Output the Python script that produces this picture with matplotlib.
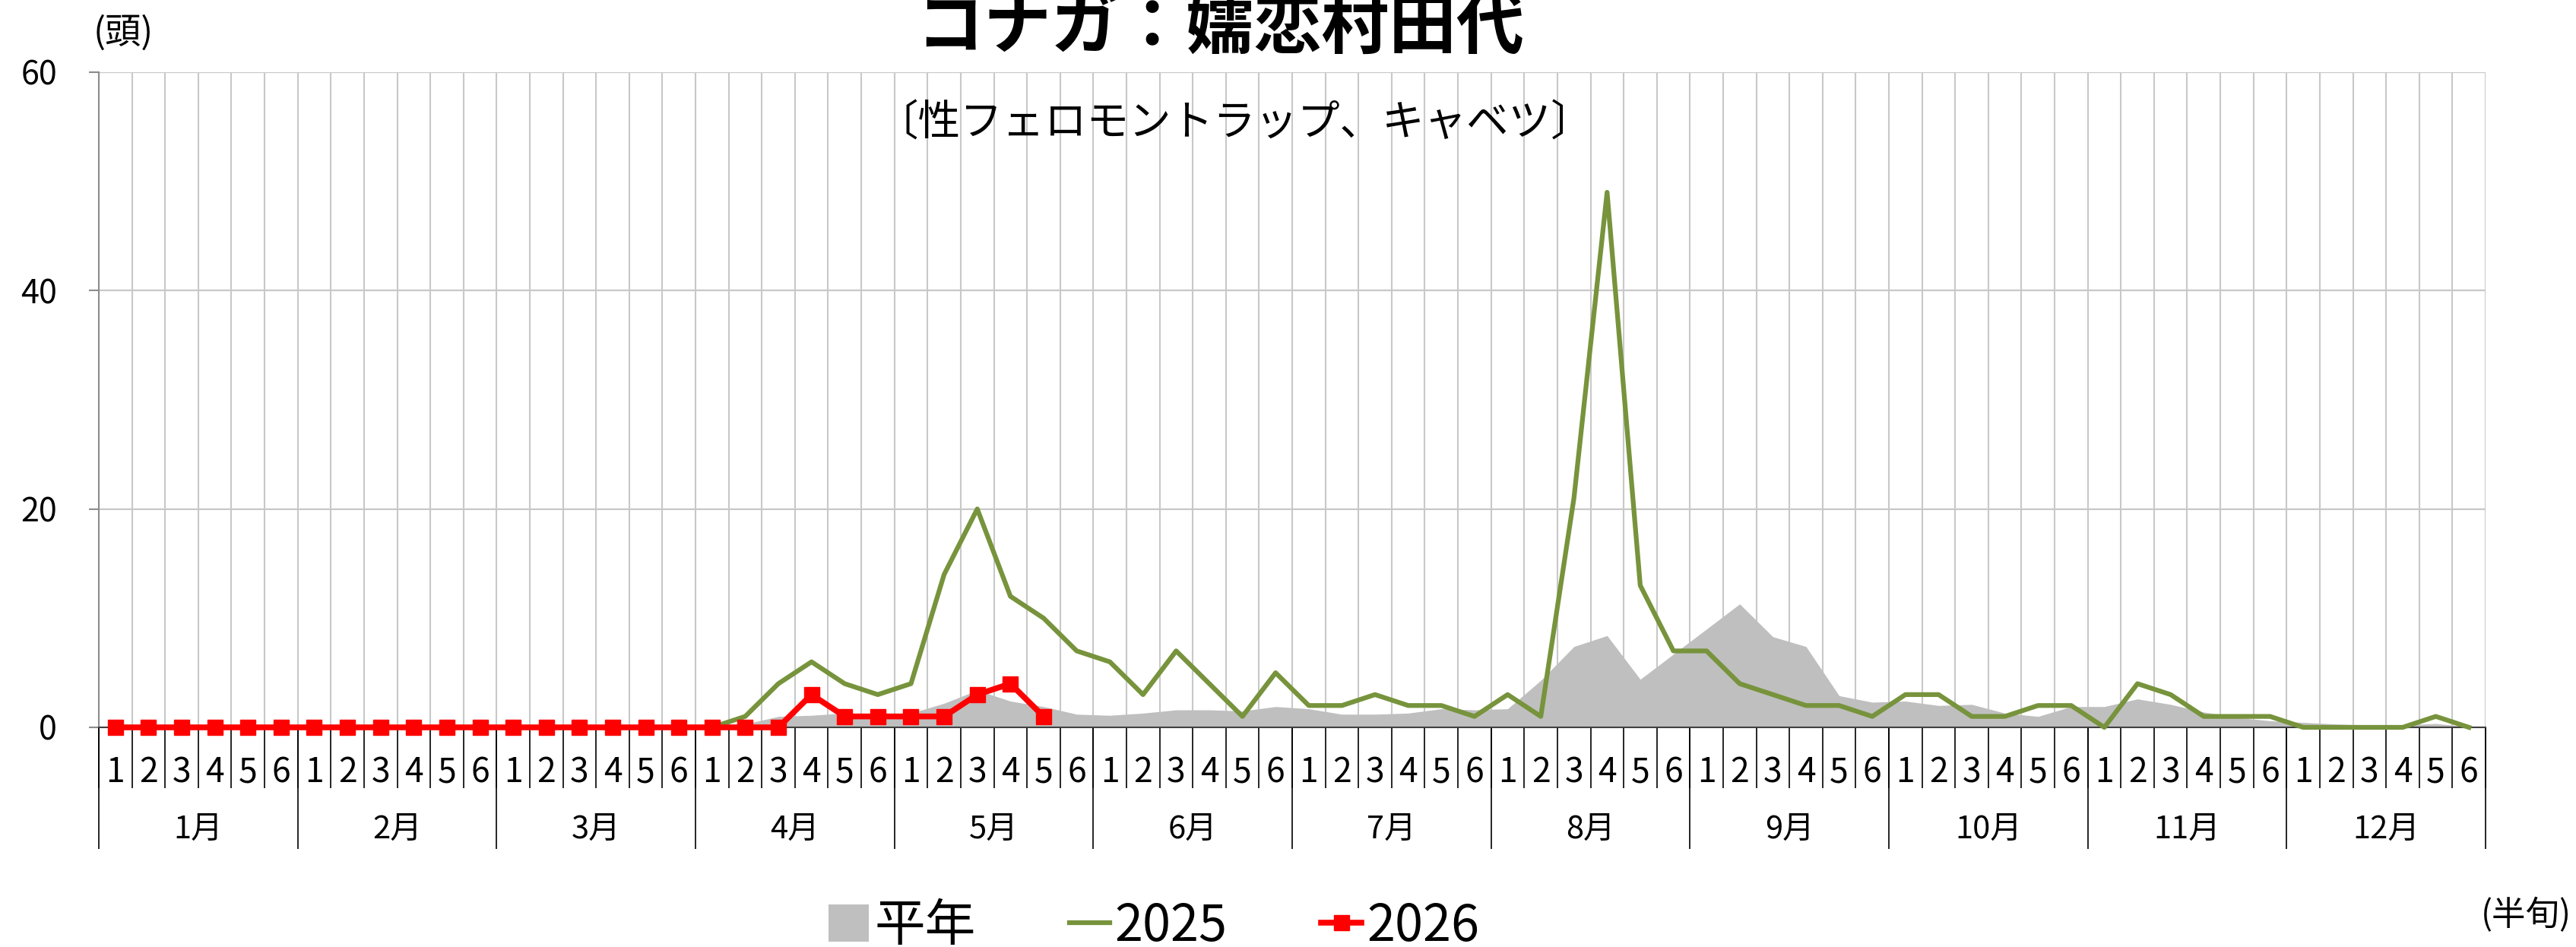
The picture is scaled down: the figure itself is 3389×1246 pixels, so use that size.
import matplotlib
matplotlib.use("Agg")
import matplotlib.pyplot as plt
from matplotlib.patches import Patch
from matplotlib.lines import Line2D
import numpy as np

plt.rcParams['font.family'] = ['Noto Sans CJK JP', 'DejaVu Sans']

# half-month (半旬) labels and months
half_labels = ["1", "2", "3", "4", "5", "6"] * 12
month_labels = ["1月", "2月", "3月", "4月", "5月", "6月",
                "7月", "8月", "9月", "10月", "11月", "12月"]

# 平年 (average year)
heinen = [0, 0, 0, 0, 0, 0,
          0, 0, 0, 0, 0, 0,
          0, 0, 0, 0, 0, 0,
          0, 0.3, 1.0, 1.1, 1.3, 1.2,
          1.3, 2.2, 3.4, 2.4, 1.9, 1.2,
          1.1, 1.3, 1.6, 1.6, 1.5, 1.9,
          1.7, 1.2, 1.2, 1.3, 1.7, 1.6,
          1.7, 4.3, 7.4, 8.4, 4.4, 6.7,
          9.0, 11.3, 8.3, 7.4, 2.9, 2.3,
          2.4, 2.0, 2.1, 1.3, 1.0, 1.9,
          1.9, 2.6, 2.1, 1.4, 0.9, 0.6,
          0.45, 0.3, 0.2, 0.2, 0.35, 0.05]

nan = np.nan
y2025 = [nan, nan, nan, nan, nan, nan,
         nan, nan, nan, nan, nan, nan,
         nan, nan, nan, nan, nan, nan,
         0, 1, 4, 6, 4, 3,
         4, 14, 20, 12, 10, 7,
         6, 3, 7, 4, 1, 5,
         2, 2, 3, 2, 2, 1,
         3, 1, 21, 49, 13, 7,
         7, 4, 3, 2, 2, 1,
         3, 3, 1, 1, 2, 2,
         0, 4, 3, 1, 1, 1,
         0, 0, 0, 0, 1, 0]

y2026 = [0, 0, 0, 0, 0, 0,
         0, 0, 0, 0, 0, 0,
         0, 0, 0, 0, 0, 0,
         0, 0, 0, 3, 1, 1,
         1, 1, 3, 4, 1, nan,
         nan, nan, nan, nan, nan, nan,
         nan, nan, nan, nan, nan, nan,
         nan, nan, nan, nan, nan, nan,
         nan, nan, nan, nan, nan, nan,
         nan, nan, nan, nan, nan, nan,
         nan, nan, nan, nan, nan, nan,
         nan, nan, nan, nan, nan, nan]

GRAY = '#BFBFBF'
GREEN = '#77933C'
RED = '#FF0000'
GRID = '#C8C8C8'

W, H = 3389, 1246
fig = plt.figure(figsize=(W / 100, H / 100), dpi=100)
ax = fig.add_axes([130 / W, 1 - 957 / H, (3270 - 130) / W, (957 - 95) / H])

x = np.arange(len(heinen)) + 0.5
ax.fill_between(x, heinen, color=GRAY, lw=0, zorder=2)
ax.plot(x, y2025, color=GREEN, lw=4.5, zorder=6, clip_on=False,
        solid_joinstyle='round')
ax.plot(x, y2026, color=RED, lw=5.5, marker='s', ms=15, zorder=7, clip_on=False)

ax.set_xlim(0, len(heinen))
ax.set_ylim(0, 60)
ax.set_axisbelow(True)

# y axis
ax.set_yticks([0, 20, 40, 60])
ax.tick_params(axis='y', labelsize=31, length=9.5, width=1.5, color='#8C8C8C', pad=30)
ax.grid(axis='y', color=GRID, lw=1.6)

# x axis: slot boundaries (grid + short separators), slot labels
ax.set_xticks(np.arange(0, 73))
ax.set_xticklabels([])
ax.tick_params(axis='x', which='major', length=57.6, width=1.2, color='black', direction='out')
ax.grid(axis='x', which='major', color=GRID, lw=1.5)
ax.set_xticks(x, minor=True)
ax.set_xticklabels(half_labels, minor=True)
ax.tick_params(axis='x', which='minor', length=0, pad=26, labelsize=32)

# month row
sec = ax.secondary_xaxis('bottom')
sec.set_xticks(np.arange(0, 73, 6))
sec.set_xticklabels([])
sec.tick_params(which='major', length=115, width=1.2, color='black')
sec.set_xticks(np.arange(3, 72, 6), minor=True)
sec.set_xticklabels(month_labels, minor=True)
sec.tick_params(which='minor', length=0, pad=82, labelsize=30)
sec.spines['bottom'].set_visible(False)

for s in ['top', 'right']:
    ax.spines[s].set_visible(False)
ax.spines['left'].set_color('#8C8C8C')
ax.spines['left'].set_linewidth(1.5)
ax.spines['bottom'].set_color('#404040')
ax.spines['bottom'].set_linewidth(1.5)
ax.spines['bottom'].set_zorder(5)

# titles and units
fig.text(1605 / W, 1 - 64 / H, 'コナガ：嬬恋村田代', ha='center', va='baseline',
         fontsize=64, fontweight='bold')
fig.text(1624 / W, 1 - 163 / H, '〔性フェロモントラップ、キャベツ〕', ha='center', va='center',
         fontsize=40)
fig.text(162 / W, 1 - 44 / H, '(頭)', ha='center', va='center', fontsize=34)
fig.text(3323 / W, 1 - 1204 / H, '(半旬)', ha='center', va='center', fontsize=32)

handles = [Patch(facecolor=GRAY, edgecolor='none'),
           Line2D([], [], color=GREEN, lw=4.5),
           Line2D([], [], color=RED, lw=5.5, marker='s', ms=15)]
fig.legend(handles, ['平年', '2025', '2026'], loc='center',
           bbox_to_anchor=(1518 / W, 1 - 1219 / H), ncol=3, frameon=False,
           fontsize=48, handlelength=0.8, handleheight=0.75,
           handletextpad=0.1, columnspacing=1.85)

fig.savefig('out.png', dpi=100)
